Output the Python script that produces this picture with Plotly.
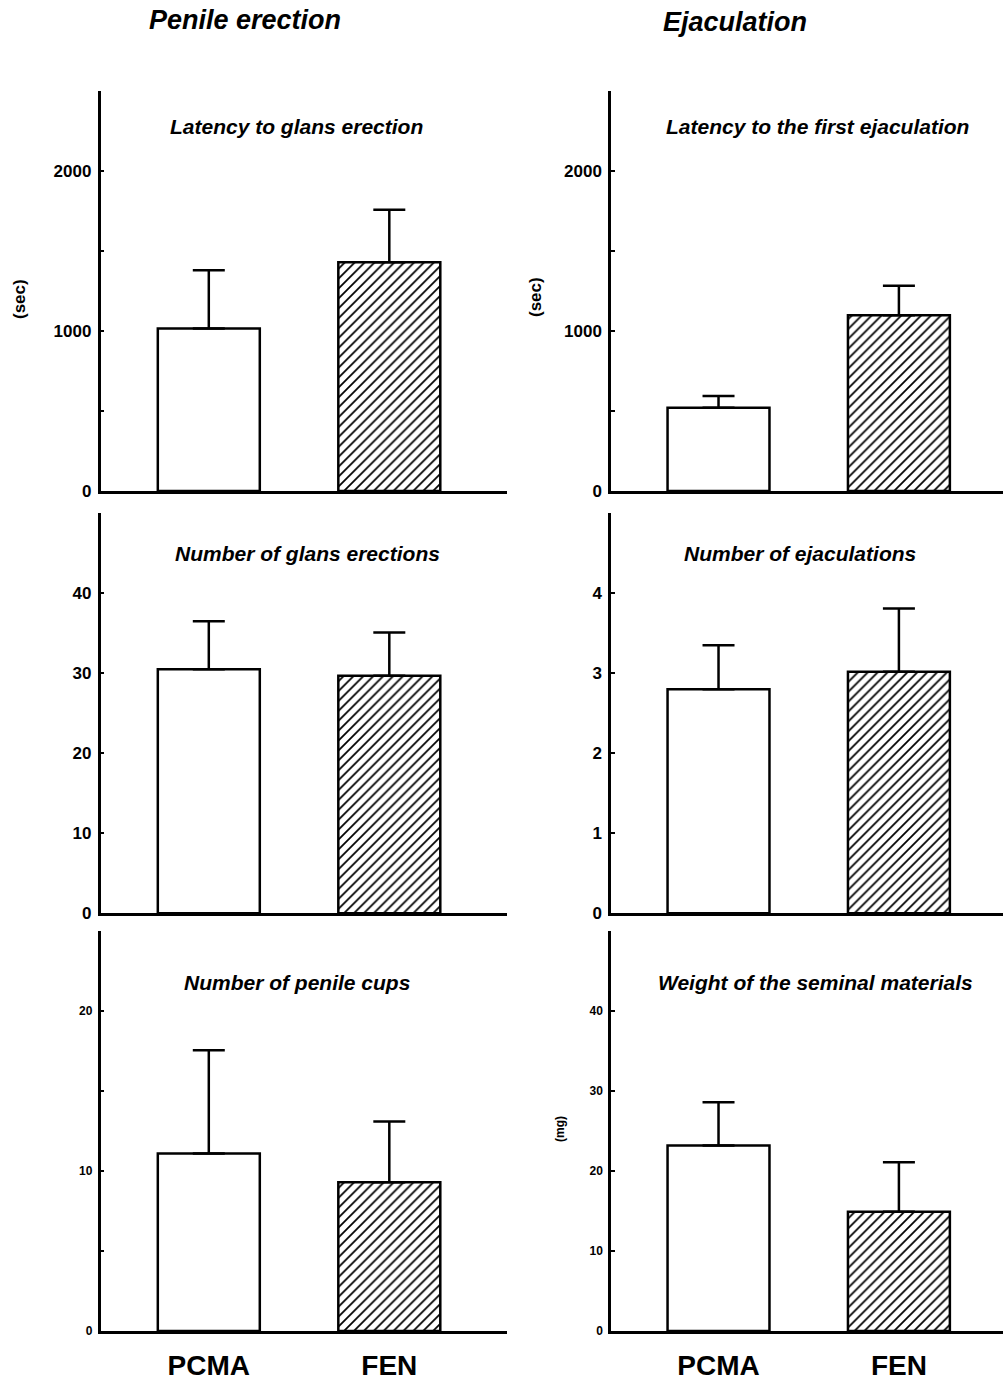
import plotly.graph_objects as go

# ---------------- data ----------------
groups = ["PCMA", "FEN"]

glans_latency_mean = [1015, 1430]
glans_latency_sem = [365, 328]

ejac_latency_mean = [520, 1098]
ejac_latency_sem = [74, 185]

glans_count_mean = [30.5, 29.7]
glans_count_sem = [6.0, 5.4]

ejac_count_mean = [2.8, 3.02]
ejac_count_sem = [0.55, 0.79]

cups_mean = [11.1, 9.3]
cups_sem = [6.45, 3.8]

seminal_mean = [23.2, 14.9]
seminal_sem = [5.4, 6.2]

panel_titles = [
    "Latency to glans erection", "Latency to the first ejaculation",
    "Number of glans erections", "Number of ejaculations",
    "Number of penile cups", "Weight of the seminal materials",
]

# y tick values and labels per panel
yt1_vals = [0, 500, 1000, 1500, 2000, 2500]
yt1_text = ["0", "", "1000", "", "2000", ""]
yt2L_vals = [0, 10, 20, 30, 40, 50]
yt2L_text = ["0", "10", "20", "30", "40", ""]
yt2R_vals = [0, 1, 2, 3, 4, 5]
yt2R_text = ["0", "1", "2", "3", "4", ""]
yt3L_vals = [0, 5, 10, 15, 20, 25]
yt3L_text = ["0", "", "10", "", "20", ""]
yt3R_vals = [0, 10, 20, 30, 40, 50]
yt3R_text = ["0", "10", "20", "30", "40", ""]

means = [glans_latency_mean, ejac_latency_mean, glans_count_mean,
         ejac_count_mean, cups_mean, seminal_mean]
sems = [glans_latency_sem, ejac_latency_sem, glans_count_sem,
        ejac_count_sem, cups_sem, seminal_sem]
yranges = [[0, 2500], [0, 2500], [0, 50], [0, 5], [0, 25], [0, 50]]
yticks = [(yt1_vals, yt1_text), (yt1_vals, yt1_text), (yt2L_vals, yt2L_text),
          (yt2R_vals, yt2R_text), (yt3L_vals, yt3L_text), (yt3R_vals, yt3R_text)]

# ---------------- layout geometry ----------------
W, H = 1003, 1380
FONT = "Liberation Sans, Arial, Helvetica, sans-serif"
x_domains = [[100.5 / W, 507 / W], [611 / W, 1.0]]
x_ranges = [[-0.6, 1.652], [-0.596, 1.577]]
row_zero_px = [491, 913.3, 1331]
row_h = 400
y_domains = [[(H - z) / H, (H - z + row_h) / H] for z in row_zero_px]

fig = go.Figure()
layout = dict(
    template="none",
    width=W, height=H, margin=dict(l=0, r=0, t=0, b=0, pad=0),
    paper_bgcolor="white", plot_bgcolor="white", showlegend=False,
    font=dict(family=FONT, color="black"),
)

for i in range(6):
    row, col = divmod(i, 2)
    n = "" if i == 0 else str(i + 1)
    fig.add_trace(go.Bar(
        x=groups, y=means[i], width=0.565,
        xaxis="x" + n, yaxis="y" + n,
        marker=dict(
            color="white",
            line=dict(color="black", width=2.5),
            pattern=dict(shape=["", "/"], fgcolor="black", bgcolor="white",
                         size=7, solidity=0.25),
        ),
        error_y=dict(type="data", symmetric=False, array=sems[i],
                     arrayminus=[0, 0], color="black", thickness=2.5, width=16),
    ))
    bottom = row == 2
    layout["xaxis" + n] = dict(
        domain=x_domains[col], anchor="y" + n, range=x_ranges[col],
        showline=True, linecolor="black", linewidth=2.5, ticks="",
        showgrid=False, zeroline=False, showticklabels=bottom,
        tickfont=dict(size=28, family=FONT), ticklabelstandoff=8,
        tickvals=groups, ticktext=["<b>%s</b>" % g for g in groups],
        automargin=False, fixedrange=True,
    )
    tv, tt = yticks[i]
    layout["yaxis" + n] = dict(
        domain=y_domains[row], anchor="x" + n, range=yranges[i],
        showline=True, linecolor="black", linewidth=2.5,
        ticks="inside", ticklen=4, tickwidth=2, tickcolor="black",
        tickvals=tv, ticktext=["<b>%s</b>" % t if t else "" for t in tt],
        tickfont=dict(size=12 if row == 2 else 17, family=FONT),
        ticklabelstandoff=3,
        showgrid=False, zeroline=False, automargin=False, fixedrange=True,
    )

ann = []
def add_text(text, px, py, size, bold=True, italic=False, angle=0):
    t = text
    if bold:
        t = "<b>%s</b>" % t
    if italic:
        t = "<i>%s</i>" % t
    ann.append(dict(text=t, x=px / W, y=1 - py / H, xref="paper", yref="paper",
                    xanchor="center", yanchor="middle", showarrow=False,
                    textangle=angle, font=dict(size=size, family=FONT, color="black")))

# column headings
add_text("Penile erection", 245, 20, 27, italic=True)
add_text("Ejaculation", 735, 22, 27, italic=True)

# panel titles
title_pos = [(296, 127), (817, 127), (307, 553), (800, 553), (297, 982), (815, 982)]
for t, (px, py) in zip(panel_titles, title_pos):
    add_text(t, px, py, 21, italic=True)

# y-axis unit labels
add_text("(sec)", 19, 299, 17, angle=-90)
add_text("(sec)", 536, 297, 17, angle=-90)
add_text("(mg)", 560, 1129, 12, angle=-90)

layout["annotations"] = ann
fig.update_layout(**layout)
fig.write_html("out.html")
